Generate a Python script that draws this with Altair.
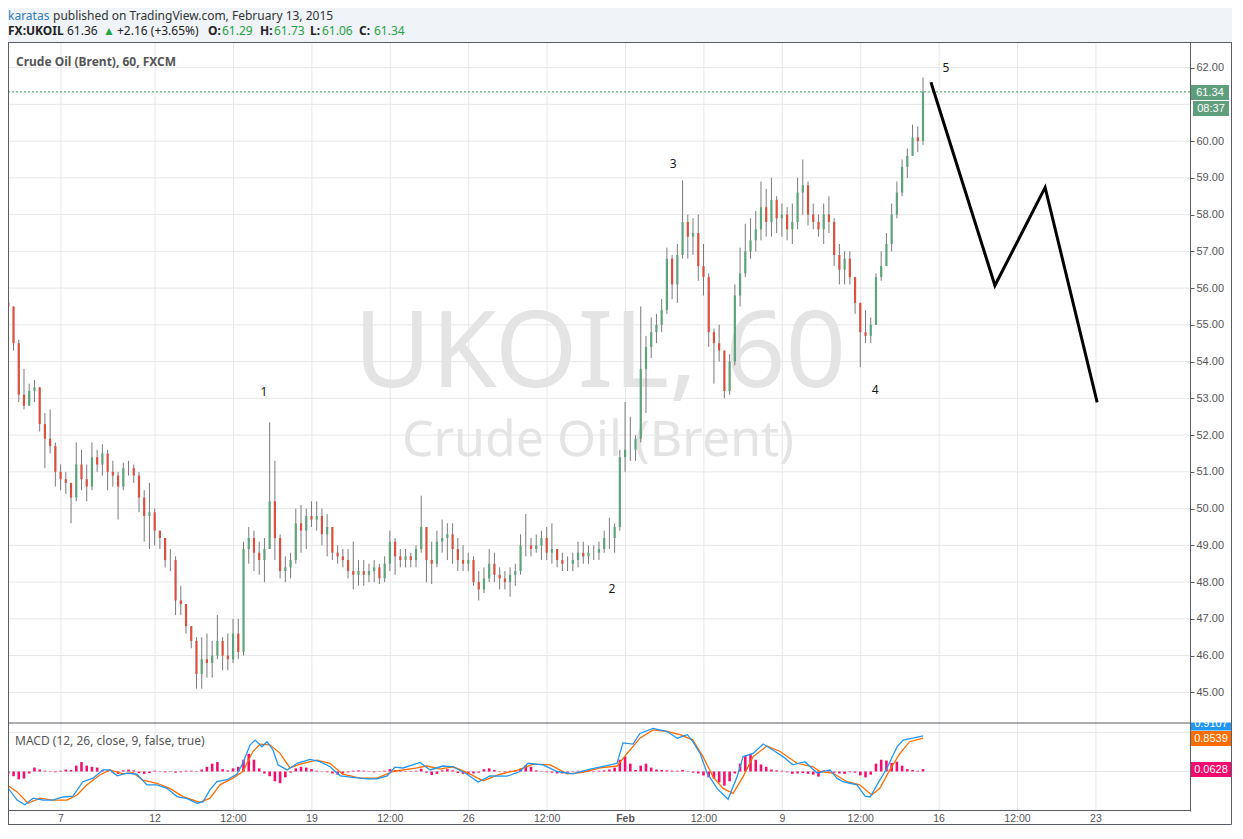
import altair as alt
import pandas as pd

# ---------------- data ----------------
first_open = 55.6
highs = [55.75, 55.5, 54.6, 53.8, 53.4, 53.5, 53.3, 52.6, 52.7, 51.8,
         51.2, 51.0, 50.7, 51.8, 51.6, 51.2, 51.8, 51.6, 51.75, 51.6,
         51.3, 51.0, 51.25, 51.3, 51.2, 51.0, 50.5, 50.7, 50.0, 49.4,
         49.2, 48.9, 48.7, 47.9, 47.4, 46.8, 46.5, 46.5, 46.6, 46.4,
         47.1, 46.5, 46.6, 47.0, 47.0, 49.1, 49.5, 49.4, 49.1, 49.2,
         52.35, 51.3, 49.3, 48.7, 48.8, 50.0, 50.1, 50.0, 50.2, 50.2,
         50.0, 49.85, 49.5, 49.0, 48.9, 48.9, 49.1, 48.6, 48.6, 48.5,
         48.6, 48.5, 48.7, 49.4, 49.2, 48.9, 48.9, 48.8, 49.0, 50.35,
         49.5, 49.1, 49.4, 49.7, 49.6, 49.6, 49.2, 49.0, 48.8, 48.7,
         48.3, 48.4, 48.9, 48.8, 48.4, 48.3, 48.4, 48.5, 49.3, 49.85,
         49.2, 49.3, 49.4, 49.5, 49.6, 48.9, 48.8, 48.7, 48.8, 49.1,
         49.1, 49.0, 49.0, 49.1, 49.4, 49.75, 49.6, 51.6, 52.9, 52.5,
         52.0, 55.5, 54.7, 55.2, 55.3, 55.7, 57.1, 56.9, 57.2, 58.93,
         58.0, 57.9, 58.0, 57.2, 56.4, 54.9, 55.0, 54.3, 54.2, 56.1,
         57.1, 57.75, 57.9, 58.1, 58.9, 58.7, 59.0, 58.5, 58.3, 58.2,
         58.3, 59.0, 59.5, 58.9, 58.3, 58.0, 58.3, 58.5, 57.9, 57.2,
         57.0, 57.0, 56.3, 55.6, 55.4, 55.2, 56.4, 57.0, 57.5, 58.3,
         58.9, 59.5, 59.8, 60.45, 60.4, 61.73]
lows = [55.3, 54.3, 52.9, 52.7, 52.8, 52.9, 52.1, 51.1, 51.5, 50.6,
        50.5, 50.4, 49.6, 50.2, 50.5, 50.2, 50.5, 51.0, 50.9, 50.5,
        50.6, 49.7, 50.5, 50.9, 50.7, 49.9, 49.1, 48.9, 49.0, 48.9,
        48.4, 48.3, 47.1, 47.1, 46.6, 46.2, 45.1, 45.1, 45.4, 45.4,
        45.9, 45.6, 45.6, 45.8, 45.9, 46.0, 48.5, 48.3, 48.2, 48.0,
        48.9, 48.6, 48.1, 48.0, 48.1, 48.5, 48.8, 48.9, 49.5, 49.4,
        49.0, 48.7, 48.6, 48.5, 48.4, 48.1, 47.8, 47.9, 47.9, 48.0,
        48.0, 47.95, 48.0, 48.3, 48.2, 48.4, 48.4, 48.4, 48.4, 48.8,
        48.0, 47.95, 48.4, 48.8, 48.6, 48.5, 48.3, 48.3, 48.3, 47.9,
        47.5, 47.7, 48.0, 48.0, 47.8, 47.8, 47.6, 47.9, 48.2, 48.7,
        48.7, 48.8, 48.6, 48.6, 48.5, 48.4, 48.3, 48.3, 48.3, 48.4,
        48.5, 48.5, 48.6, 48.6, 48.8, 48.9, 48.8, 49.4, 51.0, 51.3,
        51.3, 51.8, 52.6, 54.1, 54.5, 54.8, 55.3, 55.7, 55.6, 56.8,
        56.8, 56.9, 56.2, 55.8, 54.4, 53.4, 54.0, 53.0, 53.1, 53.9,
        55.5, 56.3, 56.8, 57.0, 57.3, 57.4, 57.4, 57.5, 57.4, 57.3,
        57.2, 57.6, 58.0, 57.7, 57.6, 57.4, 57.2, 57.5, 56.6, 56.1,
        56.1, 56.1, 55.3, 53.85, 54.5, 54.5, 55.0, 56.2, 56.6, 57.0,
        57.9, 58.5, 59.0, 59.6, 59.7, 59.9]
closes = [55.5, 54.5, 53.1, 52.8, 53.2, 53.3, 52.3, 51.9, 51.7, 51.0,
          50.8, 50.7, 50.3, 51.2, 50.8, 50.6, 51.4, 51.2, 51.5, 51.0,
          50.9, 50.6, 51.1, 51.1, 50.9, 50.3, 49.8, 49.9, 49.4, 49.2,
          48.6, 48.6, 47.5, 47.4, 46.8, 46.4, 45.5, 45.9, 45.8, 46.0,
          46.4, 46.0, 45.9, 46.6, 46.1, 48.9, 49.2, 48.8, 48.6, 48.9,
          50.2, 49.2, 48.3, 48.4, 48.6, 49.6, 49.4, 49.8, 49.7, 49.8,
          49.3, 49.5, 48.8, 48.7, 48.6, 48.3, 48.2, 48.3, 48.2, 48.3,
          48.4, 48.1, 48.5, 49.1, 48.7, 48.6, 48.7, 48.6, 48.9, 49.5,
          48.6, 48.5, 49.1, 49.2, 49.3, 48.9, 48.6, 48.5, 48.6, 48.0,
          47.8, 48.1, 48.5, 48.2, 48.1, 48.0, 48.2, 48.3, 49.0, 49.0,
          48.9, 49.0, 49.2, 48.8, 48.9, 48.6, 48.5, 48.5, 48.6, 48.8,
          48.7, 48.8, 48.8, 48.9, 49.2, 49.2, 49.5, 51.4, 51.6, 51.6,
          51.9, 53.8, 54.4, 54.8, 55.0, 55.4, 56.8, 56.1, 56.9, 57.8,
          57.4, 57.5, 56.6, 56.3, 54.8, 54.5, 54.3, 53.2, 54.0, 55.8,
          56.4, 57.0, 57.3, 57.6, 58.2, 57.8, 58.4, 57.9, 58.0, 57.6,
          57.8, 58.6, 58.8, 58.0, 57.8, 57.6, 58.0, 57.8, 56.9, 56.5,
          56.8, 56.3, 55.6, 54.8, 54.7, 55.0, 56.3, 56.6, 57.2, 58.0,
          58.6, 59.3, 59.6, 60.1, 60.0, 61.34]
hist = [-0.05, -0.12, -0.2, -0.18, -0.05, 0.1, 0.05, 0.02, 0.01, -0.02,
        0.02, 0.05, 0.04, 0.15, 0.24, 0.15, 0.12, 0.1, 0.04, 0.03,
        -0.03, -0.06, 0.03, 0.05, 0.03, -0.04, -0.06, -0.04, 0.02, 0.01,
        -0.02, 0.01, -0.03, -0.02, 0.02, 0.02, 0.01, 0.05, 0.12, 0.2,
        0.24, 0.06, 0.03, 0.08, 0.12, 0.3, 0.45, 0.3, 0.08, -0.05,
        -0.12, -0.25, -0.3, -0.15, -0.03, 0.08, 0.12, 0.1, 0.06, 0.02,
        0.01, -0.02, -0.05, -0.08, -0.05, -0.02, 0.02, 0.03, 0.02, 0.01,
        -0.02, -0.01, 0.02, 0.06, 0.04, 0.02, -0.01, 0.01, 0.02, 0.07,
        -0.03, -0.09, -0.06, 0.03, 0.06, 0.03, -0.04, -0.06, -0.07, -0.05,
        -0.03, 0.06, 0.08, 0.04, 0.01, -0.02, 0.02, 0.03, 0.07, 0.16,
        0.12, 0.03, 0.01, -0.02, -0.03, -0.05, -0.05, -0.03, -0.01, 0.02,
        0.02, 0.03, 0.01, 0.02, 0.03, 0.05, 0.1, 0.3, 0.38, 0.2,
        0.04, 0.15, 0.2, 0.1, 0.05, 0.04, 0.03, 0.02, 0.02, 0.04,
        -0.01, -0.03, -0.05, -0.1, -0.15, -0.18, -0.28, -0.36, -0.25, -0.05,
        0.2, 0.4, 0.45, 0.3, 0.18, 0.12, 0.05, 0.03, 0.02, -0.02,
        -0.06, -0.05, -0.04, -0.06, -0.08, -0.13, 0.03, 0.04, -0.03, -0.05,
        -0.06, -0.02, -0.03, -0.1, -0.15, -0.08, 0.2, 0.3, 0.28, 0.22,
        0.25, 0.15, 0.06, 0.04, 0.02, 0.06]

macd_days = [0.28, 0.60, 0.85, 1.11, 1.43, 1.74, 2.06, 2.38, 2.70, 3.02,
             3.34, 3.56, 3.79, 4.10, 4.42, 4.74, 5.06, 5.38, 5.70, 6.02,
             6.34, 6.53, 6.75, 6.97, 7.29, 7.61, 7.80, 8.03, 8.19, 8.41,
             8.57, 8.76, 8.92, 9.21, 9.53, 9.94, 10.26, 10.58, 10.90, 11.31,
             11.76, 12.08, 12.40, 12.65, 12.91, 13.45, 13.77, 14.18, 14.50, 14.95,
             15.30, 15.68, 16.22, 16.64, 16.89, 17.37, 17.82, 18.33, 18.87, 19.41,
             19.73, 19.92, 20.24, 20.46, 20.88, 21.33, 21.65, 21.97, 22.15, 22.38,
             22.60, 22.92, 23.27, 23.56, 23.75, 24.07, 24.39, 24.70, 25.02, 25.34,
             25.72, 26.11, 26.52, 26.74, 26.93, 27.16, 27.38, 27.64, 27.80, 28.02,
             28.34, 28.66, 28.85, 29.16, 29.49]
macd_vals = [-0.39, -0.73, -0.85, -0.68, -0.73, -0.73, -0.65, -0.63, -0.26, -0.17,
             0.04, 0.04, -0.11, -0.04, -0.07, -0.34, -0.34, -0.43, -0.64, -0.69,
             -0.81, -0.77, -0.47, -0.26, -0.21, -0.07, 0.22, 0.68, 0.80, 0.63,
             0.76, 0.55, 0.17, 0.04, 0.21, 0.31, 0.25, 0.12, -0.11, -0.15,
             -0.19, -0.19, -0.11, 0.11, 0.09, 0.23, 0.04, 0.14, 0.12, -0.07,
             -0.27, -0.11, -0.12, 0.0, 0.21, 0.17, 0.0, -0.06, 0.06, 0.15,
             0.21, 0.73, 0.70, 0.97, 1.10, 1.02, 0.85, 0.94, 0.76, 0.46,
             -0.04, -0.43, -0.71, -0.13, 0.38, 0.46, 0.70, 0.55, 0.38, 0.17,
             0.25, -0.04, 0.04, -0.17, -0.26, -0.30, -0.34, -0.63, -0.65, -0.34,
             0.09, 0.63, 0.80, 0.85, 0.91]
signal_days = [0.28, 0.60, 0.95, 1.33, 1.74, 2.19, 2.51, 2.83, 3.24, 3.56,
               3.98, 4.30, 4.61, 5.06, 5.47, 5.89, 6.43, 6.75, 7.07, 7.48,
               7.80, 8.12, 8.35, 8.66, 8.98, 9.30, 9.62, 10.16, 10.57, 10.99,
               11.53, 12.08, 12.59, 13.35, 13.67, 14.09, 14.50, 14.95, 15.46, 16.00,
               16.54, 17.06, 17.60, 18.14, 18.65, 19.19, 19.73, 20.05, 20.46, 20.88,
               21.33, 21.74, 22.15, 22.47, 22.79, 23.11, 23.43, 23.75, 24.07, 24.51,
               24.93, 25.47, 25.98, 26.20, 26.61, 27.06, 27.47, 27.85, 28.11, 28.43,
               28.75, 29.06, 29.49]
signal_vals = [-0.34, -0.52, -0.81, -0.68, -0.73, -0.73, -0.60, -0.34, -0.09, 0.04,
               -0.06, -0.03, -0.22, -0.30, -0.43, -0.64, -0.79, -0.68, -0.34, -0.17,
               0.0, 0.51, 0.70, 0.68, 0.47, 0.09, 0.19, 0.29, 0.21, -0.07,
               -0.17, -0.17, 0.0, 0.09, 0.14, 0.06, 0.12, -0.03, -0.24, -0.07,
               0.03, 0.19, 0.17, -0.06, -0.02, 0.09, 0.14, 0.46, 0.85, 1.06,
               1.02, 0.94, 0.80, 0.38, -0.13, -0.43, -0.56, -0.13, 0.38, 0.65,
               0.51, 0.21, 0.12, 0.0, -0.04, -0.26, -0.34, -0.60, -0.43, 0.04,
               0.46, 0.76, 0.85]

wave_days = [29.74, 31.78, 33.38, 35.04]
wave_prices = [61.60, 56.07, 58.74, 52.89]
label_text = ["1", "2", "3", "4", "5"]
label_days = [8.47, 19.57, 21.52, 27.96, 30.22]
label_prices = [53.16, 47.80, 59.39, 53.22, 62.0]

tick_days = [2, 5, 7.5, 10, 12.5, 15, 17.5, 20, 22.5, 25, 27.5, 30, 32.5, 35]
tick_labels = ["7", "12", "12:00", "19", "12:00", "26", "12:00", "Feb",
               "12:00", "9", "12:00", "16", "12:00", "23"]
price_ticks = [45, 46, 47, 48, 49, 50, 51, 52, 53, 54, 55, 56, 57, 58, 59, 60, 61, 62]
# 61.00 is hidden behind the last-price tag in the reference
price_labels = [45, 46, 47, 48, 49, 50, 51, 52, 53, 54, 55, 56, 57, 58, 59, 60, 62]
macd_grid = [0, 1]
last_price = 61.34

# ---------------- tables ----------------
BAR0 = 0.32
n = len(closes)
opens = [first_open] + closes[:-1]
bars = pd.DataFrame({
    "d": [BAR0 + i / 6 for i in range(n)],
    "o": opens, "h": highs, "l": lows, "c": closes,
    "dir": ["up" if c >= o else "down" for o, c in zip(opens, closes)],
})
histdf = pd.DataFrame({"d": bars["d"], "v": hist, "z": 0.0})
macddf = pd.DataFrame({"d": macd_days, "v": macd_vals})
sigdf = pd.DataFrame({"d": signal_days, "v": signal_vals})
wavedf = pd.DataFrame({"d": wave_days, "p": wave_prices, "i": range(len(wave_days))})
labdf = pd.DataFrame({"d": label_days, "p": label_prices, "t": label_text})
ticksdf = pd.DataFrame({"d": tick_days, "lab": tick_labels})
pgrid = pd.DataFrame({"p": price_ticks})
mgrid = pd.DataFrame({"v": macd_grid})

W, H = 1182, 769
SEP = 681
FRAME = "#585c63"
GRID = "#e7e7e7"
XS = alt.Scale(domain=[0.31, 38.0], nice=False, zero=False, padding=0)
PS = alt.Scale(domain=[41.771, 62.697], nice=False, zero=False)
MS = alt.Scale(domain=[-1.0077, 18.61], nice=False, zero=False)
PA = alt.Axis(orient="right", values=price_labels, format=".2f", grid=False, tickSize=4,
              labelPadding=2, labelFont="Liberation Sans", labelFontSize=11,
              labelColor="#555555", domainColor=FRAME, tickColor=FRAME, title=None,
              zindex=1, labelFlush=False, labelOverlap=False)
X = alt.X("d:Q", scale=XS, axis=None)

ONE = pd.DataFrame({"k": [0]})


def prule(x, y, x2=None, y2=None, color=FRAME, w=1):
    enc = {"x": alt.value(x), "y": alt.value(y)}
    if x2 is not None:
        enc["x2"] = alt.value(x2)
    if y2 is not None:
        enc["y2"] = alt.value(y2)
    return alt.Chart(ONE).mark_rule(color=color, strokeWidth=w).encode(**enc)


def prect(x, y, x2, y2, color):
    return alt.Chart(ONE).mark_rect(color=color).encode(
        x=alt.value(x), x2=alt.value(x2), y=alt.value(y), y2=alt.value(y2))


def ptext(s, x, y, size=12, color="#333333", weight="normal", align="left",
          baseline="alphabetic", font="Noto Sans"):
    return alt.Chart(pd.DataFrame({"t": [s]})).mark_text(
        align=align, baseline=baseline, fontSize=size, color=color,
        fontWeight=weight, font=font).encode(x=alt.value(x), y=alt.value(y), text="t:N")


# ---------------- price pane ----------------
price_layers = [
    prect(W + 0.5, 0, 1223.5, 782.5, "white"),
    prect(0, H, 1223.5, 782.5, "white"),
    alt.Chart(pgrid).mark_rule(color=GRID).encode(
        y=alt.Y("p:Q", scale=PS, axis=PA), x=alt.value(0), x2=alt.value(W)),
    alt.Chart(ticksdf).mark_rule(color=GRID).encode(x=X, y=alt.value(0), y2=alt.value(H)),
    ptext("UKOIL, 60", 592, 345, size=106, color="#e4e4e4", align="center"),
    ptext("Crude Oil (Brent)", 590, 414, size=50, color="#e4e4e4", align="center"),
    alt.Chart(bars).mark_rule(color="#7a7a7a", strokeWidth=1).encode(
        x=X, y=alt.Y("l:Q", scale=PS, axis=PA), y2="h:Q"),
    alt.Chart(bars).mark_bar(size=2.2).encode(
        x=X, y=alt.Y("o:Q", scale=PS, axis=PA), y2="c:Q",
        color=alt.Color("dir:N", scale=alt.Scale(domain=["up", "down"],
                                                 range=["#5fa37d", "#d9503f"]), legend=None)),
    alt.Chart(pd.DataFrame({"p": [last_price]})).mark_rule(
        color="#3f9b63", strokeDash=[2, 2], strokeWidth=1).encode(
        y=alt.Y("p:Q", scale=PS, axis=PA), x=alt.value(0), x2=alt.value(W)),
    alt.Chart(wavedf).mark_line(color="black", strokeWidth=3).encode(
        x=X, y=alt.Y("p:Q", scale=PS, axis=PA), order="i:Q"),
    alt.Chart(labdf).mark_text(fontSize=12, color="#1a1a1a", font="Noto Sans").encode(
        x=X, y=alt.Y("p:Q", scale=PS, axis=PA), text="t:N"),
    alt.Chart(ticksdf).transform_filter(alt.datum.lab != "Feb").mark_text(
        fontSize=10.5, color="#555555", font="Liberation Sans", baseline="middle").encode(
        x=X, y=alt.value(777), text="lab:N"),
    alt.Chart(ticksdf).transform_filter(alt.datum.lab == "Feb").mark_text(
        fontSize=10.5, color="#555555", font="Liberation Sans", baseline="middle",
        fontWeight="bold").encode(x=X, y=alt.value(777), text="lab:N"),
]
price_group = alt.layer(*price_layers)

# ---------------- MACD pane ----------------
macd_group = alt.layer(
    alt.Chart(mgrid).mark_rule(color=GRID).encode(
        y=alt.Y("v:Q", scale=MS, axis=None), x=alt.value(0), x2=alt.value(W)),
    alt.Chart(histdf).mark_bar(size=2.6, color="#f2106e").encode(
        x=X, y=alt.Y("v:Q", scale=MS, axis=None), y2="z:Q"),
    alt.Chart(sigdf).mark_line(color="#ff6d00", strokeWidth=1.3).encode(
        x=X, y=alt.Y("v:Q", scale=MS, axis=None)),
    alt.Chart(macddf).mark_line(color="#2196f3", strokeWidth=1.3).encode(
        x=X, y=alt.Y("v:Q", scale=MS, axis=None)),
)

# ---------------- decorations, header, tags ----------------
GREEN = "#27a244"
L1, L2 = -22.5, -7.0
deco = [
    prule(0, 0.5, x2=1223.5),
    prule(0.5, 0, y2=782.5),
    prule(1223.5, 0, y2=782.5),
    prule(0, 782.5, x2=1223.5),
    prule(0, SEP, x2=W),
    prule(0, H - 0.5, x2=W),
    ptext("karatas", 0, L1, color="#2f7fc1"),
    ptext("published on TradingView.com, February 13, 2015", 45, L1, color="#333333"),
    ptext("FX:UKOIL", 0, L2, weight="bold", color="#222222"),
    ptext("61.36", 59, L2, color="#222222"),
    ptext("\u25b2", 95, L2, color=GREEN),
    ptext("+2.16 (+3.65%)", 109, L2, color="#222222"),
    ptext("O:", 200, L2, weight="bold", color="#222222"),
    ptext("61.29", 214, L2, color=GREEN),
    ptext("H:", 252, L2, weight="bold", color="#222222"),
    ptext("61.73", 266, L2, color=GREEN),
    ptext("L:", 302, L2, weight="bold", color="#222222"),
    ptext("61.06", 314, L2, color=GREEN),
    ptext("C:", 351, L2, weight="bold", color="#222222"),
    ptext("61.34", 366, L2, color=GREEN),
    ptext("Crude Oil (Brent), 60, FXCM", 8, 24, weight="bold", color="#555555"),
    ptext("MACD (12, 26, close, 9, false, true)", 7, 703, color="#555555"),
    prect(1183, 43, 1221, 58, "#5f9e7d"),
    ptext("61.34", 1202, 50.5, size=11, color="white", align="center",
          baseline="middle", font="Liberation Sans"),
    prect(1185, 59, 1221, 74, "#5f9e7d"),
    ptext("08:37", 1203, 66.5, size=11, color="white", align="center",
          baseline="middle", font="Liberation Sans"),
    prect(1183, 674, 1223, 688.5, "#2196f3"),
    ptext("0.9107", 1203, 681.5, size=11, color="white", align="center",
          baseline="middle", font="Liberation Sans"),
    prect(1182.6, 660, 1223, 680.5, "white"),
    prect(1183, 689, 1223, 704, "#ff6d00"),
    ptext("0.8539", 1203, 696.5, size=11, color="white", align="center",
          baseline="middle", font="Liberation Sans"),
    prect(1183, 720, 1223, 735, "#f50a6e"),
    ptext("0.0628", 1203, 727.5, size=11, color="white", align="center",
          baseline="middle", font="Liberation Sans"),
]
deco_group = alt.layer(*deco)

chart = alt.layer(price_group, macd_group, deco_group).resolve_scale(
    y="independent"
).properties(
    width=W, height=H,
    autosize=alt.AutoSizeParams(type="none"),
    padding={"left": 0, "top": 34, "right": 42, "bottom": 14},
).configure(background="#f0f3f7").configure_view(fill="white", strokeWidth=0)

chart.save("out.html", embed_options={"renderer": "svg", "actions": False})
